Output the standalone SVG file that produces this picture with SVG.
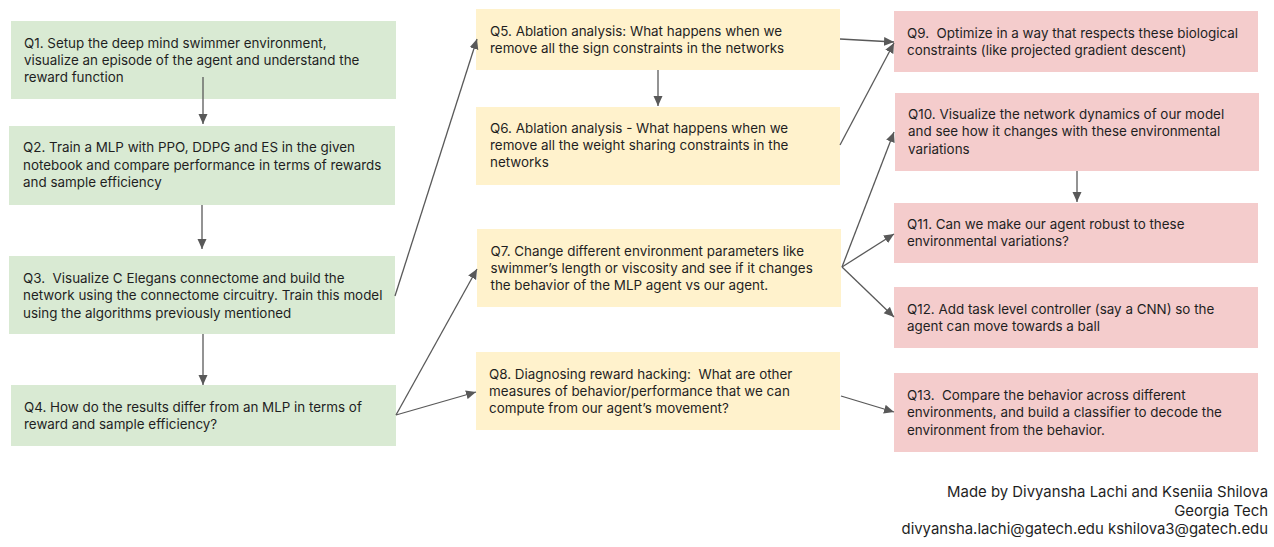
<svg xmlns="http://www.w3.org/2000/svg" width="1274" height="547" viewBox="0 0 1274 547">
<style>
.g{fill:#d9ead3}.y{fill:#fff2cc}.p{fill:#f4cccc}
text{font-family:Inter,"Liberation Sans",Arial,sans-serif;font-size:13.4px;fill:#1f1f1f;white-space:pre}
.ft{font-size:14.9px;text-anchor:end}
.c line{stroke:#595959;stroke-width:1.3;fill:none;marker-end:url(#ah)}
</style>
<defs>
<marker id="ah" viewBox="0 0 10 10" refX="10" refY="5" markerWidth="10" markerHeight="10" markerUnits="userSpaceOnUse" orient="auto">
<path d="M0,0.5 L10,5 L0,9.5 z" fill="#595959"/>
</marker>
</defs>
<rect width="1274" height="547" fill="#ffffff"/>
<g id="Q1"><rect class="g" x="11" y="21" width="385" height="78"/>
<text x="24" y="48">Q1. Setup the deep mind swimmer environment,</text>
<text x="24" y="65">visualize an episode of the agent and understand the</text>
<text x="24" y="82">reward function</text></g>
<g id="Q2"><rect class="g" x="9" y="126" width="386" height="79"/>
<text x="23" y="152">Q2. Train a MLP with PPO, DDPG and ES in the given</text>
<text x="23" y="169.5">notebook and compare performance in terms of rewards</text>
<text x="23" y="187">and sample efficiency</text></g>
<g id="Q3"><rect class="g" x="9" y="256" width="386" height="78"/>
<text x="23" y="283" xml:space="preserve">Q3.  Visualize C Elegans connectome and build the</text>
<text x="23" y="300">network using the connectome circuitry. Train this model</text>
<text x="23" y="317.5">using the algorithms previously mentioned</text></g>
<g id="Q4"><rect class="g" x="11" y="385" width="385" height="61"/>
<text x="24" y="412">Q4. How do the results differ from an MLP in terms of</text>
<text x="24" y="429">reward and sample efficiency?</text></g>
<g id="Q5"><rect class="y" x="476" y="9" width="364" height="61"/>
<text x="490" y="36">Q5. Ablation analysis: What happens when we</text>
<text x="490" y="53">remove all the sign constraints in the networks</text></g>
<g id="Q6"><rect class="y" x="476" y="107" width="364" height="78"/>
<text x="490" y="132.5">Q6. Ablation analysis - What happens when we</text>
<text x="490" y="149.5">remove all the weight sharing constraints in the</text>
<text x="490" y="167">networks</text></g>
<g id="Q7"><rect class="y" x="477" y="229" width="364" height="78"/>
<text x="490.5" y="256">Q7. Change different environment parameters like</text>
<text x="490.5" y="273">swimmer’s length or viscosity and see if it changes</text>
<text x="490.5" y="290">the behavior of the MLP agent vs our agent.</text></g>
<g id="Q8"><rect class="y" x="476" y="352" width="364" height="78"/>
<text x="489" y="379" xml:space="preserve">Q8. Diagnosing reward hacking:  What are other</text>
<text x="489" y="396">measures of behavior/performance that we can</text>
<text x="489" y="413">compute from our agent’s movement?</text></g>
<g id="Q9"><rect class="p" x="894" y="11" width="364" height="61"/>
<text x="907" y="38" xml:space="preserve">Q9.  Optimize in a way that respects these biological</text>
<text x="907" y="55">constraints (like projected gradient descent)</text></g>
<g id="Q10"><rect class="p" x="895" y="93" width="364" height="78"/>
<text x="908" y="119">Q10. Visualize the network dynamics of our model</text>
<text x="908" y="136">and see how it changes with these environmental</text>
<text x="908" y="153.5">variations</text></g>
<g id="Q11"><rect class="p" x="894" y="203" width="364" height="60"/>
<text x="907" y="228.5">Q11. Can we make our agent robust to these</text>
<text x="907" y="246">environmental variations?</text></g>
<g id="Q12"><rect class="p" x="894" y="287" width="364" height="61"/>
<text x="907" y="313.5">Q12. Add task level controller (say a CNN) so the</text>
<text x="907" y="331">agent can move towards a ball</text></g>
<g id="Q13"><rect class="p" x="894" y="373" width="364" height="79"/>
<text x="907" y="400" xml:space="preserve">Q13.  Compare the behavior across different</text>
<text x="907" y="417">environments, and build a classifier to decode the</text>
<text x="907" y="434.5">environment from the behavior.</text></g>
<g id="footer">
<text class="ft" x="1268" y="497">Made by Divyansha Lachi and Kseniia Shilova</text>
<text class="ft" x="1268" y="516">Georgia Tech</text>
<text class="ft" x="1268" y="534">divyansha.lachi@gatech.edu kshilova3@gatech.edu</text>
</g>
<g id="connectors" class="c">
<line x1="203" y1="77" x2="203" y2="124"/>
<line x1="202" y1="205" x2="202" y2="249"/>
<line x1="203" y1="334" x2="203" y2="385"/>
<line x1="395" y1="296" x2="477" y2="39"/>
<line x1="396" y1="415" x2="477" y2="269"/>
<line x1="396" y1="415" x2="476" y2="392"/>
<line x1="658" y1="70" x2="658" y2="106"/>
<line x1="840" y1="39" x2="894" y2="42"/>
<line x1="840" y1="145" x2="894" y2="43"/>
<line x1="842" y1="267" x2="894" y2="132"/>
<line x1="842" y1="267" x2="894" y2="234"/>
<line x1="842" y1="267" x2="894" y2="317"/>
<line x1="841" y1="396" x2="894" y2="412"/>
<line x1="1077" y1="171" x2="1077" y2="202"/>
</g>
</svg>
